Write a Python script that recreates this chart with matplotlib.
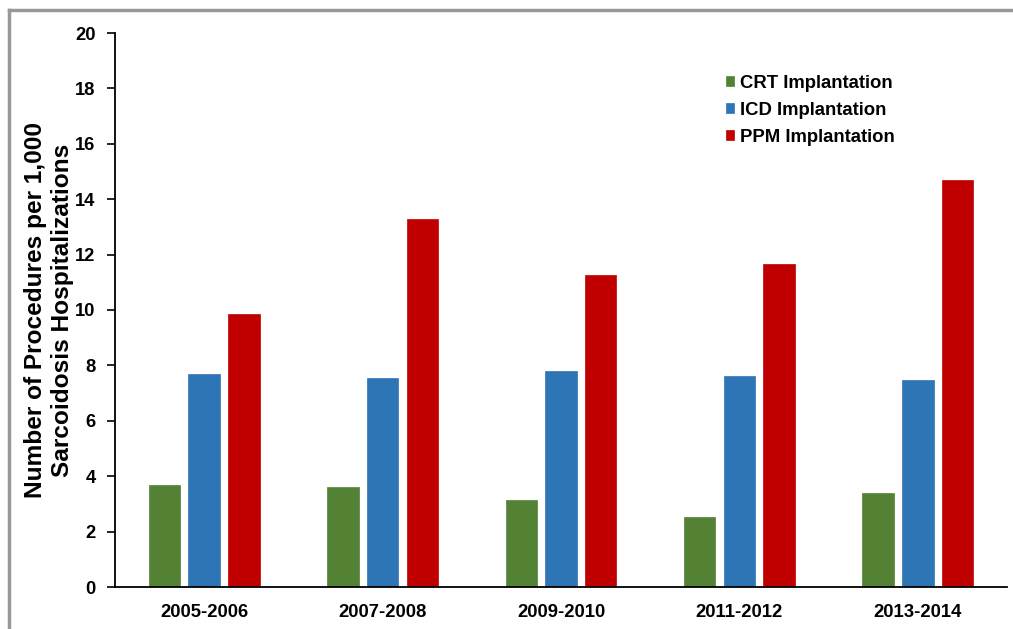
import matplotlib
matplotlib.use("Agg")
import matplotlib.pyplot as plt
from matplotlib.lines import Line2D
import numpy as np

categories = ["2005-2006", "2007-2008", "2009-2010", "2011-2012", "2013-2014"]
crt = [3.69, 3.61, 3.13, 2.54, 3.41]
icd = [7.69, 7.55, 7.80, 7.63, 7.46]
ppm = [9.84, 13.27, 11.27, 11.65, 14.68]
series_names = ["CRT Implantation", "ICD Implantation", "PPM Implantation"]
colors = ["#548235", "#2E75B6", "#C00000"]
yticks = [0, 2, 4, 6, 8, 10, 12, 14, 16, 18, 20]

plt.rcParams['font.family'] = ['Liberation Sans', 'DejaVu Sans']
plt.rcParams['font.weight'] = 'bold'

fig = plt.figure(figsize=(10.13, 6.29), dpi=100)
ax = fig.add_axes([115/1013, 1-587/629, (1007-115)/1013, (587-33)/629])

x = np.arange(len(categories))
width = 0.177
step = 0.2225
for i, (vals, name, c) in enumerate(zip([crt, icd, ppm], series_names, colors)):
    ax.bar(x + (i-1)*step, vals, width, color=c, label=name,
           edgecolor=c, linewidth=0.5)

ax.set_xlim(-0.5, len(categories)-0.5)
ax.set_ylim(0, 20)
ax.set_yticks(yticks)
ax.set_yticklabels([str(t) for t in yticks], fontsize=13.2, fontweight='bold')
ax.set_xticks(x)
ax.set_xticklabels(categories, fontsize=13.3, fontweight='bold')
ax.tick_params(axis='x', length=0, pad=12)
ax.tick_params(axis='y', length=6, width=1.2, direction='out', pad=8)
for s in ['top', 'right']:
    ax.spines[s].set_visible(False)
for s in ['left', 'bottom']:
    ax.spines[s].set_linewidth(1.3)
    ax.spines[s].set_color('black')

ax.set_ylabel("Number of Procedures per 1,000\nSarcoidosis Hospitalizations",
              fontsize=17.6, fontweight='bold', linespacing=1.22, labelpad=1)

leg = ax.legend(loc='upper left', bbox_to_anchor=(0.666, 0.955), frameon=False,
                fontsize=13.3, handlelength=0.45, handleheight=0.45,
                handletextpad=0.35, labelspacing=0.55)
for t in leg.get_texts():
    t.set_fontweight('bold')

# grey frame (top and left edges visible)
fig.add_artist(Line2D([9/1013, 1.0], [1-9.5/629, 1-9.5/629], color='#999999', linewidth=2.5,
                      transform=fig.transFigure))
fig.add_artist(Line2D([9/1013, 9/1013], [0, 1-9.5/629], color='#999999', linewidth=2.5,
                      transform=fig.transFigure))

fig.savefig("out.png", dpi=100)
